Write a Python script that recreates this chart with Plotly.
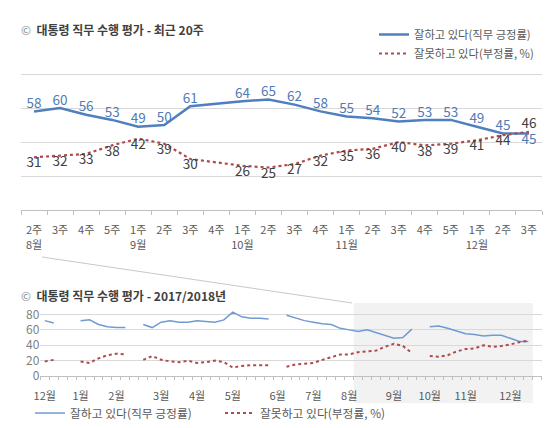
import plotly.graph_objects as go

# ---------------- data ----------------
# Top panel: last 20 weeks
top_weeks = ["2주", "3주", "4주", "5주", "1주", "2주", "3주", "4주", "1주", "2주",
             "3주", "4주", "1주", "2주", "3주", "4주", "5주", "1주", "2주", "3주"]
top_months = ["8월", "", "", "", "9월", "", "", "", "10월", "",
              "", "", "11월", "", "", "", "", "12월", "", ""]
top_approve = [58, 60, 56, 53, 49, 50, 61, None, 64, 65,
               62, 58, 55, 54, 52, 53, 53, 49, 45, 45]
top_disapprove = [31, 32, 33, 38, 42, 39, 30, None, 26, 25,
                  27, 32, 35, 36, 40, 38, 39, 41, 44, 46]

# Bottom panel: weekly 2017/12 - 2018/12 (gaps = no survey)
all_approve = [72, 69, None, None, 72, 73, 67, 64, 63, 63, None,
               67, 63, 70, 72, 70, 70, 72, 71, 70, 73, 83, 77, 75, 75, 74, None,
               79, 75, 72, 70, 68, 67, 62, 60, 58, 60, 56, 53, 49, 50, 61, None,
               64, 65, 62, 58, 55, 54, 52, 53, 53, 49, 45, 45]
all_disapprove = [19, 21, None, None, 19, 17, 23, 27, 29, 28, None,
                  21, 26, 21, 19, 18, 20, 17, 18, 20, 18, 11, 13, 14, 14, 14, None,
                  12, 15, 16, 17, 21, 25, 28, 28, 31, 32, 33, 38, 42, 39, 30, None,
                  26, 25, 27, 32, 35, 36, 40, 38, 39, 41, 44, 46]
month_labels = ["12월", "1월", "2월", "3월", "4월", "5월", "6월",
                "7월", "8월", "9월", "10월", "11월", "12월"]
month_weeks = [0, 4, 8, 13, 17, 21, 26, 30, 34, 39, 43, 47, 52]
zoom_first_week = 35  # first of the "recent 20 weeks"

name_a = "잘하고 있다(직무 긍정률)"
name_d = "잘못하고 있다(부정률, %)"

# ---------------- style ----------------
W, H = 554, 428
FONT = "Noto Sans CJK KR, Noto Sans, sans-serif"
BLUE = "#4f7fbf"
BLUE_L = "#6f9bd2"
RED = "#b04a4c"
BLUE_TXT = "#4f7bb8"
DARK_TXT = "#404040"
GRID = "#d9d9d9"
AXIS = "#bfbfbf"
TICK_TXT = "#595959"


def py(p):
    return 1 - p / H


fig = go.Figure()

x_top = list(range(len(top_weeks)))
txt_a, txt_d, pos_a, pos_d = [], [], [], []
for a, d in zip(top_approve, top_disapprove):
    txt_a.append("" if a is None else str(a))
    txt_d.append("" if d is None else str(d))
    if a is not None and d is not None and d > a:
        pos_a.append("bottom center")
        pos_d.append("top center")
    else:
        pos_a.append("top center")
        pos_d.append("bottom center")

fig.add_trace(go.Scatter(
    x=x_top, y=top_approve, mode="lines+text", text=txt_a, textposition=pos_a,
    textfont=dict(size=13.5, color=BLUE_TXT, family=FONT),
    line=dict(color=BLUE, width=2.5), connectgaps=True, cliponaxis=False,
    name=name_a, xaxis="x", yaxis="y", legend="legend", hoverinfo="skip"))
fig.add_trace(go.Scatter(
    x=x_top, y=top_disapprove, mode="lines+text", text=txt_d, textposition=pos_d,
    textfont=dict(size=13.5, color=DARK_TXT, family=FONT),
    line=dict(color=RED, width=2.2, dash="dot"), connectgaps=True, cliponaxis=False,
    name=name_d, xaxis="x", yaxis="y", legend="legend", hoverinfo="skip"))

x_all = list(range(len(all_approve)))
fig.add_trace(go.Scatter(
    x=x_all, y=all_approve, mode="lines", line=dict(color=BLUE_L, width=1.5),
    connectgaps=False, name=name_a, xaxis="x2", yaxis="y2", legend="legend2",
    hoverinfo="skip"))
fig.add_trace(go.Scatter(
    x=x_all, y=all_disapprove, mode="lines", line=dict(color=RED, width=2, dash="dot"),
    connectgaps=False, name=name_d, xaxis="x2", yaxis="y2", legend="legend2",
    hoverinfo="skip"))

top_ticktext = [f"{w}<br>{m}" if m else w for w, m in zip(top_weeks, top_months)]

fig.update_layout(
    width=W, height=H,
    margin=dict(l=0, r=0, t=0, b=0, autoexpand=False),
    paper_bgcolor="white", plot_bgcolor="rgba(0,0,0,0)",
    font=dict(family=FONT, color=TICK_TXT),
    xaxis=dict(domain=[21 / W, 542 / W], range=[-0.5, len(top_weeks) - 0.5],
               tickmode="array", tickvals=x_top, ticktext=top_ticktext,
               ticks="", showgrid=False, zeroline=False, automargin=False,
               ticklabelstandoff=10,
               showline=True, linecolor=AXIS, linewidth=1,
               minor=dict(tickmode="linear", tick0=-0.5, dtick=1, ticks="outside",
                          ticklen=4, tickcolor=AXIS, showgrid=False),
               tickfont=dict(size=11, color=TICK_TXT), anchor="y"),
    yaxis=dict(domain=[py(210), py(40)], range=[0, 100],
               tickmode="array", tickvals=[0, 20, 40, 60, 80, 100],
               showticklabels=False, showgrid=True, gridcolor=GRID, gridwidth=1,
               zeroline=False, showline=False, anchor="x", automargin=False),
    xaxis2=dict(domain=[40.3 / W, 541.7 / W], range=[-0.5, len(all_approve) + 0.5],
                tickmode="array", tickvals=month_weeks, ticktext=month_labels,
                ticks="", showgrid=False, zeroline=False, automargin=False,
                ticklabelstandoff=10,
                showline=True, linecolor=AXIS, linewidth=1,
                minor=dict(tickmode="linear", tick0=-0.5, dtick=1, ticks="outside",
                           ticklen=3, tickcolor=AXIS, showgrid=False),
                tickfont=dict(size=11, color=TICK_TXT), anchor="y2"),
    yaxis2=dict(domain=[py(376), py(306.8)], range=[0, 90],
                tickmode="array", tickvals=[0, 20, 40, 60, 80], automargin=False,
                showgrid=True, gridcolor=GRID, zeroline=False, showline=False,
                tickfont=dict(size=12, color="#7f7f7f"), anchor="x2"),
    legend=dict(x=374 / W, y=py(20), xanchor="left", yanchor="top",
                font=dict(size=11.3, color=TICK_TXT, family=FONT),
                bgcolor="rgba(0,0,0,0)", tracegroupgap=0),
    legend2=dict(orientation="h", x=30 / W, y=py(413), xanchor="left", yanchor="middle",
                 font=dict(size=11.8, color=TICK_TXT, family=FONT),
                 entrywidth=145, entrywidthmode="pixels",
                 bgcolor="rgba(0,0,0,0)"),
    showlegend=True,
)

fig.add_shape(type="rect", xref="x2", x0=zoom_first_week - 0.5, x1=len(all_approve) - 0.5,
              yref="paper", y0=py(403), y1=py(303),
              fillcolor="#f2f2f2", line=dict(width=0), layer="below")
fig.add_shape(type="line", xref="paper", yref="paper",
              x0=42 / W, y0=py(257), x1=352 / W, y1=py(303),
              line=dict(color="#c8c8c8", width=1))

fig.add_annotation(xref="paper", yref="paper", x=19 / W, y=py(29),
                   xanchor="left", yanchor="middle", showarrow=False,
                   text="<span style='color:#8c8c8c'>©</span>  <b>대통령 직무 수행 평가 - 최근 20주</b>",
                   font=dict(size=12, color=DARK_TXT, family=FONT))
fig.add_annotation(xref="paper", yref="paper", x=19 / W, y=py(295),
                   xanchor="left", yanchor="middle", showarrow=False,
                   text="<span style='color:#8c8c8c'>©</span>  <b>대통령 직무 수행 평가 - 2017/2018년</b>",
                   font=dict(size=12, color=DARK_TXT, family=FONT))

fig.write_html("out.html", config={"displayModeBar": False},
               post_script="document.body.style.margin='0';document.body.style.padding='0';")
